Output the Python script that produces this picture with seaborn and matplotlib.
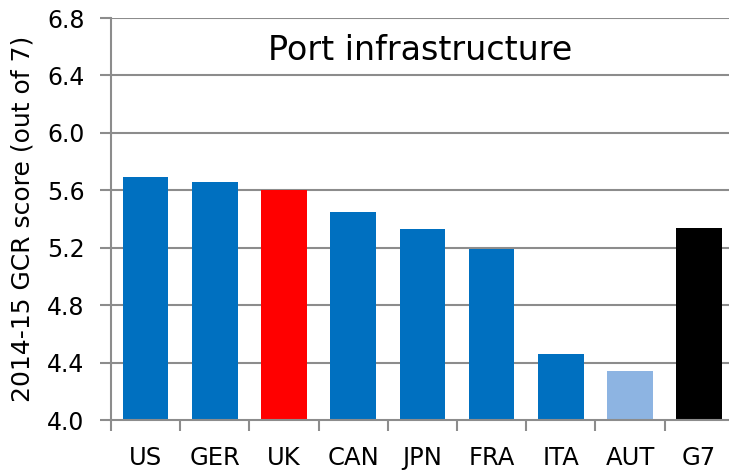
import matplotlib
matplotlib.use("Agg")
import matplotlib.pyplot as plt
import seaborn as sns
import pandas as pd
from matplotlib.ticker import FixedLocator, FormatStrFormatter

countries = ["US", "GER", "UK", "CAN", "JPN", "FRA", "ITA", "AUT", "G7"]
scores = [5.69, 5.66, 5.60, 5.45, 5.33, 5.19, 4.46, 4.34, 5.34]
colors = ["#0070C0", "#0070C0", "#FF0000", "#0070C0", "#0070C0", "#0070C0",
          "#0070C0", "#8DB4E2", "#000000"]
yticks = [4.0, 4.4, 4.8, 5.2, 5.6, 6.0, 6.4, 6.8]

sns.set_theme(style="white")
plt.rcParams['font.family'] = ['DejaVu Sans']

df = pd.DataFrame({"country": countries, "score": scores})

fig = plt.figure(figsize=(7.29, 4.72), dpi=100)
ax = fig.add_axes([111/729, 1-420/472, (729-111)/729, (420-18)/472])

for y in yticks[1:]:
    ax.axhline(y, color="#8C8C8C", lw=1.5, zorder=0)

sns.barplot(data=df, x="country", y="score", hue="country", palette=colors,
            legend=False, width=0.66, ax=ax, saturation=1, zorder=2,
            edgecolor="none")

ax.set_ylim(4.0, 6.8)
ax.set_xlim(-0.5, -0.5 + 618/69.2)
ax.set_yticks(yticks)
ax.yaxis.set_major_formatter(FormatStrFormatter("%.1f"))
ax.xaxis.set_major_locator(FixedLocator(range(len(countries))))
ax.set_xticklabels(countries)
ax.xaxis.set_minor_locator(FixedLocator([i - 0.5 for i in range(len(countries) + 1)]))
ax.tick_params(axis="x", which="major", length=0, labelsize=17.5, pad=19, colors="black")
ax.tick_params(axis="x", which="minor", bottom=True, length=8, width=1.5, color="#8C8C8C")
ax.tick_params(axis="y", left=True, length=8, width=1.5, color="#8C8C8C", labelsize=17,
               pad=11, labelcolor="black")

for s in ["top", "right"]:
    ax.spines[s].set_visible(False)
for s in ["left", "bottom"]:
    ax.spines[s].set_color("#8C8C8C")
    ax.spines[s].set_linewidth(1.5)

ax.set_xlabel("")
ax.set_ylabel("2014-15 GCR score (out of 7)", fontsize=18, labelpad=9, color="black")
ax.text(0.5, 0.92, "Port infrastructure", transform=ax.transAxes,
        ha="center", va="center", fontsize=24, color="black")

fig.savefig("out.png", dpi=100)
